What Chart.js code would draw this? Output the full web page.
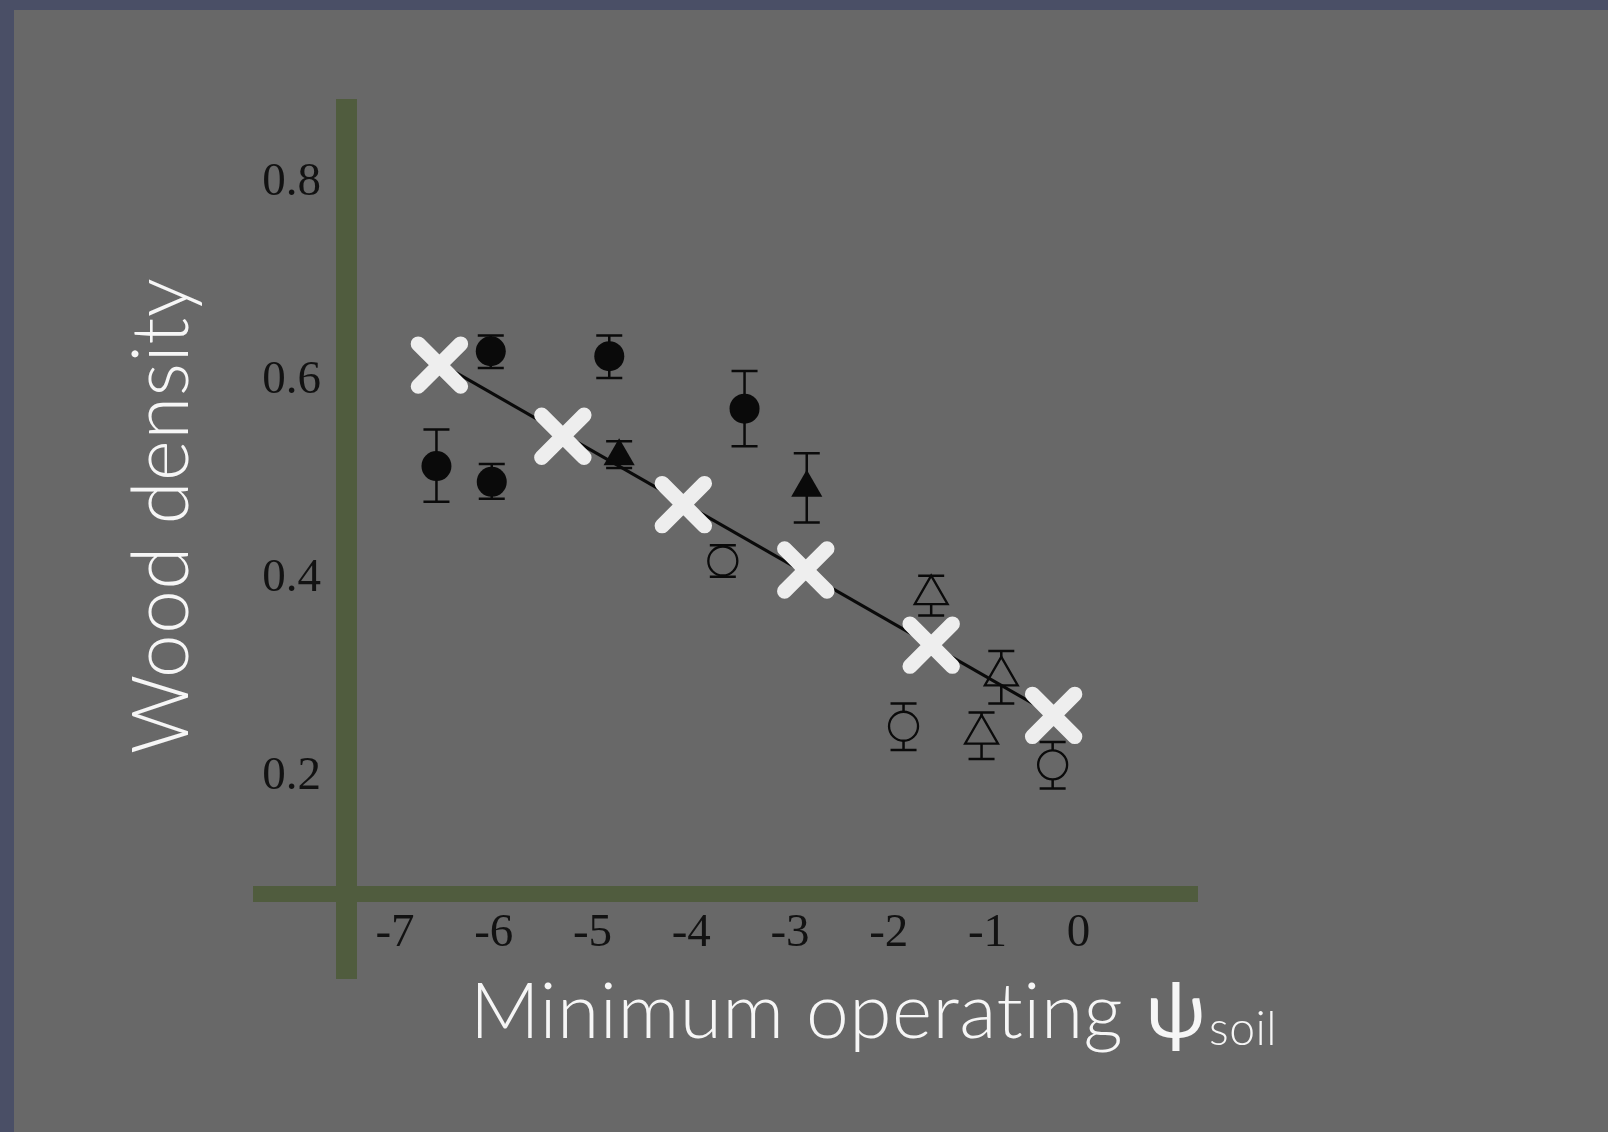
<!DOCTYPE html>
<html>
<head>
<meta charset="utf-8">
<script src="https://cdn.jsdelivr.net/npm/chart.js@4.4.1/dist/chart.umd.min.js"></script>
<style>
  html, body { margin: 0; padding: 0; background: #4a4f66; }
  #wrap { position: relative; width: 1608px; height: 1132px; }
</style>
</head>
<body>
<div id="wrap"><canvas id="c" width="1608" height="1132"></canvas></div>
<script>
// ---------- data ----------
const X_TICKS = [-7, -6, -5, -4, -3, -2, -1, 0];
const X_TICK_LABELS = ['-7', '-6', '-5', '-4', '-3', '-2', '-1', '0\u2004'];
const Y_TICKS = [0.2, 0.4, 0.6, 0.8];
const Y_TICK_LABELS = ['0.2', '0.4', '0.6', '0.8'];

const Y_TITLE = 'Wood density';
const X_TITLE = 'Minimum operating';
const X_TITLE_SYMBOL = '\u03C8';
const X_TITLE_SUB = 'soil';

// white crosses (model)
const MODEL_X = [-6.55, -5.30, -4.08, -2.84, -1.57, -0.33];
const MODEL_Y = [0.616, 0.544, 0.475, 0.409, 0.333, 0.262];

// regression line
const FIT_X = [-6.55, -0.33];
const FIT_Y = [0.618, 0.262];

// filled circles
const FC_X  = [-6.58, -6.03, -6.02, -4.83, -3.46];
const FC_Y  = [0.514, 0.630, 0.498, 0.625, 0.572];
const FC_LO = [0.478, 0.613, 0.481, 0.603, 0.534];
const FC_HI = [0.551, 0.646, 0.516, 0.646, 0.610];

// filled triangles
const FT_X  = [-4.73, -2.83];
const FT_Y  = [0.524, 0.492];
const FT_LO = [0.512, 0.457];
const FT_HI = [0.539, 0.527];

// open circles
const OC_X  = [-3.68, -1.85, -0.34];
const OC_Y  = [0.418, 0.251, 0.212];
const OC_LO = [0.402, 0.227, 0.188];
const OC_HI = [0.434, 0.274, 0.235];

// open triangles
const OT_X  = [-1.57, -1.06, -0.86];
const OT_Y  = [0.384, 0.243, 0.302];
const OT_LO = [0.363, 0.218, 0.274];
const OT_HI = [0.403, 0.265, 0.327];

// ---------- styles ----------
const BG = '#686868';
const FRAME = '#4a4f66';
const OLIVE = '#505c3e';
const INK = '#0a0a0a';
const WHITE = '#eeeeee';
const TITLE_COLOR = '#f6f6f6';

const pts = (xs, ys) => xs.map((x, i) => ({ x: x, y: ys[i] }));

const bgPlugin = {
  id: 'bg',
  beforeDraw(chart) {
    const ctx = chart.ctx;
    ctx.save();
    ctx.fillStyle = FRAME;
    ctx.fillRect(0, 0, chart.width, chart.height);
    ctx.fillStyle = BG;
    ctx.fillRect(14, 10, chart.width - 14, chart.height - 10);
    ctx.restore();
  }
};

const axesPlugin = {
  id: 'olivAxes',
  beforeDatasetsDraw(chart) {
    const ctx = chart.ctx, a = chart.chartArea;
    ctx.save();
    ctx.fillStyle = OLIVE;
    ctx.fillRect(a.left - 10, a.top, 21, (a.bottom + 85) - a.top);
    ctx.fillRect(a.left - 93, a.bottom - 8, (a.right) - (a.left - 93), 16);
    ctx.restore();
  }
};

const errPlugin = {
  id: 'errbars',
  beforeDatasetsDraw(chart) {
    const ctx = chart.ctx;
    const xs = chart.scales.x, ys = chart.scales.y;
    const groups = [[FC_X, FC_LO, FC_HI], [FT_X, FT_LO, FT_HI], [OC_X, OC_LO, OC_HI], [OT_X, OT_LO, OT_HI]];
    ctx.save();
    ctx.strokeStyle = INK;
    ctx.lineWidth = 2.5;
    const cap = 13;
    groups.forEach(([gx, lo, hi]) => {
      gx.forEach((x, i) => {
        const px = xs.getPixelForValue(x);
        const p1 = ys.getPixelForValue(lo[i]);
        const p2 = ys.getPixelForValue(hi[i]);
        ctx.beginPath();
        ctx.moveTo(px, p1); ctx.lineTo(px, p2);
        ctx.moveTo(px - cap, p1); ctx.lineTo(px + cap, p1);
        ctx.moveTo(px - cap, p2); ctx.lineTo(px + cap, p2);
        ctx.stroke();
      });
    });
    ctx.restore();
  }
};

const capPlugin = {
  id: 'roundCaps',
  beforeDatasetDraw(chart, args) {
    if (args.index === 0) { chart.ctx.save(); chart.ctx.lineCap = 'round'; }
  },
  afterDatasetDraw(chart, args) {
    if (args.index === 0) { chart.ctx.restore(); }
  }
};

function noLig(ctx) {
  if ('textRendering' in ctx) ctx.textRendering = 'optimizeSpeed';
  if ('letterSpacing' in ctx) ctx.letterSpacing = '0.5px';
}

function fitFont(ctx, weight, family, text, target, guess) {
  ctx.font = weight + ' ' + guess + 'px ' + family;
  const w = ctx.measureText(text).width;
  return guess * target / w;
}

const titlePlugin = {
  id: 'titles',
  afterDraw(chart) {
    const ctx = chart.ctx, a = chart.chartArea;
    ctx.save();
    noLig(ctx);
    ctx.fillStyle = TITLE_COLOR;
    ctx.textBaseline = 'alphabetic';
    ctx.textAlign = 'left';
    // y title (rotated)
    let s = fitFont(ctx, '300', 'Lato', Y_TITLE, 476, 84);
    ctx.font = '300 ' + s + 'px Lato';
    ctx.save();
    ctx.translate(a.left - 158.5, a.bottom - 140);
    ctx.rotate(-Math.PI / 2);
    ctx.fillText(Y_TITLE, 0, 0);
    ctx.restore();
    // x title
    s = fitFont(ctx, '300', 'Lato', X_TITLE, 653, 80);
    ctx.font = '300 ' + s + 'px Lato';
    ctx.fillText(X_TITLE, a.left + 124, a.bottom + 144);
    ctx.font = '400 ' + (s * 1.02) + 'px Lato';
    ctx.fillText(X_TITLE_SYMBOL, a.left + 800, a.bottom + 144);
    const s2 = fitFont(ctx, '300', 'Lato', X_TITLE_SUB, 68, 48);
    ctx.font = '300 ' + s2 + 'px Lato';
    ctx.fillText(X_TITLE_SUB, a.left + 863, a.bottom + 151);
    ctx.restore();
  }
};

const tickFont = { family: "'Liberation Serif', 'DejaVu Serif', serif", size: 47 };

new Chart(document.getElementById('c'), {
  type: 'scatter',
  data: {
    datasets: [
      {
        label: 'model',
        data: pts(MODEL_X, MODEL_Y),
        pointStyle: 'crossRot',
        pointRadius: 30,
        pointBorderWidth: 15,
        pointBorderColor: WHITE,
        pointBackgroundColor: WHITE,
        clip: false
      },
      {
        type: 'line',
        label: 'fit',
        data: pts(FIT_X, FIT_Y),
        showLine: true,
        borderColor: INK,
        borderWidth: 3,
        pointRadius: 0,
        fill: false,
        clip: false
      },
      {
        label: 'filled circles',
        data: pts(FC_X, FC_Y),
        pointStyle: 'circle',
        pointRadius: 15,
        pointBorderWidth: 0,
        pointBackgroundColor: INK,
        pointBorderColor: INK,
        clip: false
      },
      {
        label: 'filled triangles',
        data: pts(FT_X, FT_Y),
        pointStyle: 'triangle',
        pointRadius: 18,
        pointBorderWidth: 0,
        pointBackgroundColor: INK,
        pointBorderColor: INK,
        clip: false
      },
      {
        label: 'open circles',
        data: pts(OC_X, OC_Y),
        pointStyle: 'circle',
        pointRadius: 14.5,
        pointBorderWidth: 2.3,
        pointBackgroundColor: BG,
        pointBorderColor: INK,
        clip: false
      },
      {
        label: 'open triangles',
        data: pts(OT_X, OT_Y),
        pointStyle: 'triangle',
        pointRadius: 19,
        pointBorderWidth: 2.3,
        pointBackgroundColor: BG,
        pointBorderColor: INK,
        clip: false
      }
    ]
  },
  options: {
    responsive: false,
    animation: false,
    devicePixelRatio: 1,
    layout: { padding: { left: 0, right: 410, top: 99, bottom: 0 } },
    plugins: { legend: { display: false }, tooltip: { enabled: false } },
    scales: {
      x: {
        type: 'linear',
        min: -7.496,
        max: 1.132,
        afterBuildTicks: (scale) => { scale.ticks = X_TICKS.map(v => ({ value: v })); },
        afterFit: (scale) => { scale.height = 238; },
        grid: { display: false, drawTicks: false },
        border: { display: false },
        ticks: {
          autoSkip: false,
          maxRotation: 0,
          padding: 11,
          color: '#121212',
          font: tickFont,
          callback: (v, i) => X_TICK_LABELS[X_TICKS.indexOf(v)]
        }
      },
      y: {
        type: 'linear',
        min: 0.0815,
        max: 0.8849,
        afterBuildTicks: (scale) => { scale.ticks = Y_TICKS.map(v => ({ value: v })); },
        afterFit: (scale) => { scale.width = 346; },
        grid: { display: false, drawTicks: false },
        border: { display: false },
        ticks: {
          autoSkip: false,
          padding: 25,
          color: '#121212',
          font: tickFont,
          callback: (v, i) => Y_TICK_LABELS[Y_TICKS.indexOf(v)]
        }
      }
    }
  },
  plugins: [bgPlugin, axesPlugin, errPlugin, capPlugin, titlePlugin]
});
</script>
</body>
</html>
